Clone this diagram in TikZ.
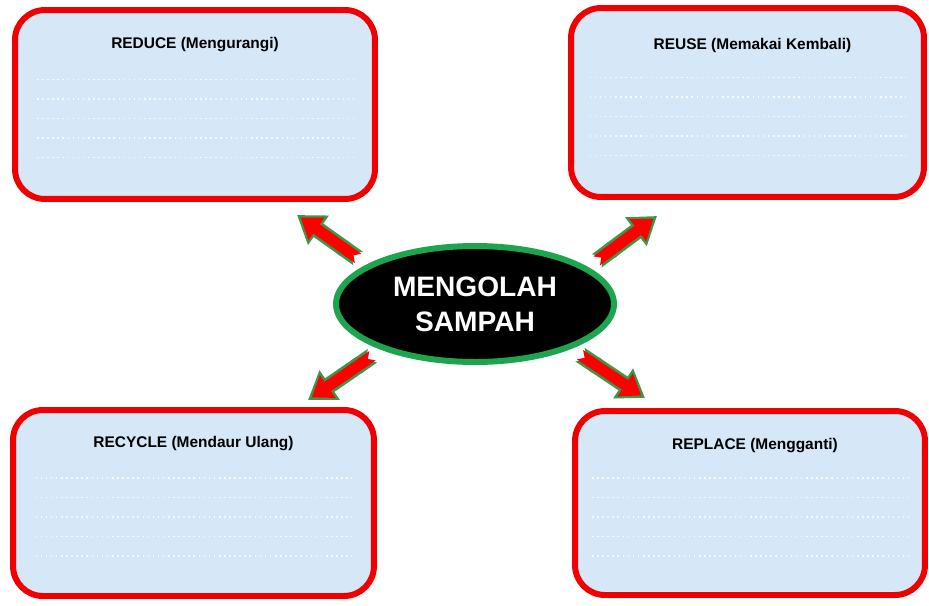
\documentclass[tikz,border=0pt]{standalone}
\usepackage{fontspec}
\setmainfont{Liberation Sans}
\usetikzlibrary{arrows.meta,calc,positioning,shapes.geometric}
\definecolor{boxred}{RGB}{240,0,0}
\definecolor{rimgreen}{RGB}{28,164,78}
\definecolor{arrowgreen}{RGB}{58,152,72}
\definecolor{paper}{RGB}{214,231,247}

\begin{document}
\begin{tikzpicture}[x=0.02cm,y=-0.02cm,
	card/.style={draw=boxred,fill=paper,line width=3.4pt,rounded corners=17pt},
	heading/.style={font=\bfseries\fontsize{8.8}{10}\selectfont},
	fat/.style={draw=red,line width=6.4pt,shorten <=6pt,shorten >=2.6pt,
		{Triangle Cap[reversed]}-{Triangle[length=11pt,width=15pt]},
		preaction={draw=arrowgreen,line width=9.4pt,shorten >=0pt,
			{Triangle Cap[reversed]}-{Triangle[length=15pt,width=19.5pt]}}}]
	\useasboundingbox (0,0) rectangle (929,605);

	\node (reduce) at (195,104.5) [card,minimum width=7.2cm,minimum height=3.78cm] {};
	\node (reuse) at (747.5,102.5) [card,minimum width=7.06cm,minimum height=3.78cm] {};
	\node (recycle) at (193.5,503) [card,minimum width=7.22cm,minimum height=3.72cm] {};
	\node (replace) at (750,503) [card,minimum width=7.0cm,minimum height=3.68cm] {};

	\node (reducetitle) at ($(reduce.north)+(0,38)$) [heading] {REDUCE (Mengurangi)};
	\node (reusetitle) at ($(reuse.north)+(5,40)$) [heading] {REUSE (Memakai Kembali)};
	\node (recycletitle) at ($(recycle.north)+(0,36)$) [heading] {RECYCLE (Mendaur Ulang)};
	\node (replacetitle) at ($(replace.north)+(5,37)$) [heading] {REPLACE (Mengganti)};

	% writing lines
	\foreach \b in {reduce,reuse,recycle,replace}
		\foreach \i in {0,...,4}
			\draw[white,line width=0.9pt,dotted,opacity=0.85]
				($(\b.center)+(-158,-25+19.5*\i)$) -- ++(316,0);

	\node (sampah) at (475,304) [ellipse,draw=rimgreen,fill=black,line width=3.4pt,
		minimum width=5.56cm,minimum height=2.32cm,text=white,align=center,
		font=\bfseries\fontsize{16}{19.8}\selectfont] {MENGOLAH\\SAMPAH};

	\coordinate (tipreduce) at (297,215);
	\coordinate (tipreuse) at (657,216);
	\coordinate (tiprecycle) at (308,400);
	\coordinate (tipreplace) at (645,398);
	\draw[fat] (sampah.160) -- (tipreduce);
	\draw[fat] (sampah.18) -- (tipreuse);
	\draw[fat] (sampah.206) -- (tiprecycle);
	\draw[fat] (sampah.-25) -- (tipreplace);
\end{tikzpicture}
\end{document}
